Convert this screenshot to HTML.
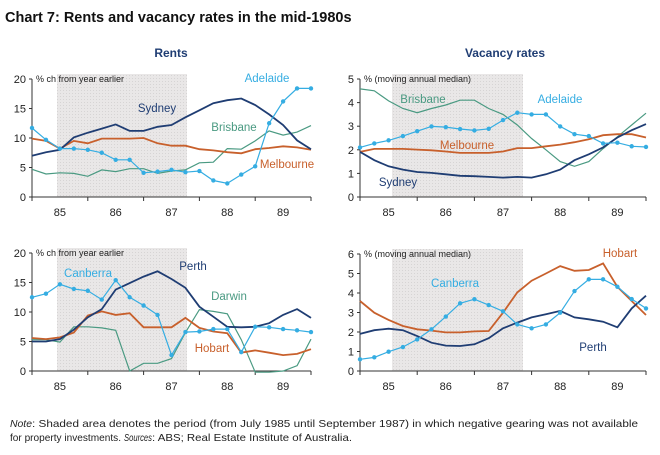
<!DOCTYPE html>
<html><head><meta charset="utf-8"><style>
body{margin:0;background:#fff;}
svg{display:block;font-family:"Liberation Sans",sans-serif;}
</style></head><body>
<svg id="chart" width="660" height="455" viewBox="0 0 660 455">
<text x="5" y="22" font-size="14.5" font-weight="bold" fill="#111">Chart 7: Rents and vacancy rates in the mid-1980s</text>
<text x="171" y="57" font-size="12" font-weight="bold" fill="#1f3d73" text-anchor="middle">Rents</text>
<text x="505" y="57" font-size="12" font-weight="bold" fill="#1f3d73" text-anchor="middle">Vacancy rates</text>
<g font-size="10.5" fill="#222">
<text x="10" y="427" font-style="italic" textLength="22" lengthAdjust="spacingAndGlyphs">Note</text>
<text x="32" y="427" textLength="606" lengthAdjust="spacingAndGlyphs">: Shaded area denotes the period (from July 1985 until September 1987) in which negative gearing was not available</text>
<text x="10" y="441" textLength="111" lengthAdjust="spacingAndGlyphs">for property investments.</text>
<text x="124" y="441" font-style="italic" textLength="28" lengthAdjust="spacingAndGlyphs">Sources</text>
<text x="152" y="441" textLength="200" lengthAdjust="spacingAndGlyphs">: ABS; Real Estate Institute of Australia.</text>
</g>
</svg>
<script>
const years = ['85','86','87','88','89'];
const rentsTicks = [0,5,10,15,20];
const vac1Ticks = [0,1,2,3,4,5];
const vac2Ticks = [0,1,2,3,4,5,6];
// quarterly values, 21 points
const sydneyRent = [7.0,7.6,8.0,10.1,10.9,11.6,12.3,11.2,11.2,11.9,12.2,13.5,14.7,15.9,16.4,16.7,15.6,14.0,12.2,9.6,8.1];
const melbourneRent = [9.9,9.5,8.2,9.5,9.1,9.9,9.9,9.9,10.0,9.1,8.7,8.7,8.1,7.9,7.6,7.4,8.1,8.3,8.6,8.4,8.0];
const brisbaneRent = [4.7,3.9,4.1,4.0,3.5,4.6,4.3,4.8,4.8,4.0,4.4,4.6,5.8,5.9,8.2,8.1,9.5,11.2,10.5,11.0,12.1];
const adelaideRent = [11.7,9.7,8.2,8.2,8.0,7.5,6.3,6.3,4.1,4.3,4.6,4.2,4.4,2.8,2.3,3.8,5.2,12.5,16.2,18.4,18.4];
const brisbaneVac = [4.58,4.5,4.07,3.75,3.57,3.75,3.9,4.1,4.1,3.75,3.5,3.05,2.48,2.0,1.5,1.3,1.5,2.05,2.55,3.05,3.55];
const adelaideVac = [2.1,2.27,2.4,2.58,2.79,2.99,2.96,2.88,2.82,2.89,3.26,3.57,3.5,3.5,2.99,2.66,2.58,2.27,2.3,2.15,2.12];
const melbourneVac = [1.91,2.04,2.04,2.04,2.01,1.98,1.93,1.87,1.87,1.87,1.93,2.07,2.07,2.15,2.22,2.32,2.45,2.62,2.66,2.66,2.52];
const sydneyVac = [1.91,1.56,1.3,1.16,1.06,1.02,0.96,0.9,0.88,0.85,0.82,0.85,0.82,0.96,1.16,1.56,1.81,2.1,2.52,2.83,3.09];
const perthRent = [5.0,5.0,5.4,7.0,9.1,10.5,13.8,14.9,16.0,16.9,15.6,14.1,10.9,9.2,7.5,7.4,7.5,8.1,9.5,10.5,9.0];
const canberraRent = [12.5,13.1,14.7,13.9,13.6,12.1,15.4,12.5,11.1,9.5,2.7,6.6,6.7,7.1,7.1,3.2,7.5,7.4,7.1,6.9,6.6];
const hobartRent = [5.6,5.4,5.7,6.5,9.4,10.1,9.5,9.8,7.4,7.4,7.4,9.0,7.3,6.7,6.4,3.1,3.5,3.1,2.7,2.9,3.7];
const darwinRent = [5.3,5.3,4.9,7.5,7.5,7.3,6.9,0,1.3,1.3,2.1,6.5,10.4,10.1,9.7,5.3,-0.2,-0.2,0,0.9,5.4];
const hobartVac = [3.59,2.99,2.62,2.31,2.14,2.07,1.98,1.98,2.03,2.05,2.99,4.03,4.63,5.0,5.38,5.14,5.18,5.52,4.32,3.59,2.87];
const canberraVac = [0.6,0.7,0.99,1.23,1.62,2.14,2.79,3.47,3.68,3.38,3.06,2.39,2.19,2.39,2.99,4.1,4.7,4.7,4.32,3.69,3.21];
const perthVac = [1.9,2.09,2.17,2.09,1.79,1.45,1.3,1.28,1.37,1.68,2.19,2.48,2.75,2.91,3.08,2.75,2.65,2.53,2.24,3.21,3.86];

const NAVY='#1f3d73', ORANGE='#c8602c', GREEN='#4a9a82', BLUE='#35ade2';
const svg=document.getElementById('chart');
const NS='http://www.w3.org/2000/svg';
function mk(tag,attrs,parent){const e=document.createElementNS(NS,tag);for(const k in attrs)e.setAttribute(k,attrs[k]);(parent||svg).appendChild(e);return e;}

const defs=mk('defs',{});
const pat=mk('pattern',{id:'dots',width:'3',height:'3',patternUnits:'userSpaceOnUse'},defs);
mk('rect',{width:'3',height:'3',fill:'#e9e7e7'},pat);
mk('rect',{x:'0',y:'0',width:'1',height:'1',fill:'#d6d4d4'},pat);

function panel(name,x0,x1,yTop,yBot,ymax,ticks,unitLabel,shadeX0,shadeX1,series,labels){
  const g=mk('g',{});
  
  
  const xs=i=>x0+(x1-x0)*i/20;
  const ys=v=>yBot-(yBot-yTop)*v/ymax;
  const sh=mk('rect',{x:shadeX0,y:yTop-5,width:shadeX1-shadeX0,height:yBot-yTop+5,fill:'url(#dots)'},g);
  
  
  const ax=mk('g',{stroke:'#333','stroke-width':'1'},g);
  
  
  mk('line',{x1:x0,y1:yTop,x2:x0,y2:yBot},ax);
  mk('line',{x1:x0,y1:yBot,x2:x1,y2:yBot},ax);
  ticks.forEach(t=>{
    mk('line',{x1:x0-3,y1:ys(t),x2:x0,y2:ys(t)},ax);
    const tl=mk('text',{x:x0-6,y:ys(t)+4,'font-size':'11','text-anchor':'end',fill:'#222',stroke:'none'},g);
    tl.textContent=t;
    
    
  });
  for(let k=0;k<=5;k++){mk('line',{x1:x0+(x1-x0)*k/5,y1:yBot,x2:x0+(x1-x0)*k/5,y2:yBot+4},ax);}
  years.forEach((y,k)=>{
    const tl=mk('text',{x:x0+(x1-x0)*(k+0.5)/5,y:yBot+19,'font-size':'11','text-anchor':'middle',fill:'#222'},g);
    tl.textContent=y;
    
    
  });
  const ul=mk('text',{x:x0+4,y:yTop+3,'font-size':'9',fill:'#222'},g);
  ul.textContent=unitLabel;
  
  
  series.forEach(s=>{
    const pts=s.data.map((v,i)=>xs(i).toFixed(1)+','+ys(v).toFixed(1)).join(' ');
    const pl=mk('polyline',{points:pts,fill:'none',stroke:s.color,'stroke-width':s.w||1.8},g);
    
    
    if(s.dots){s.data.forEach((v,i)=>{
      const c=mk('circle',{cx:xs(i),cy:ys(v),r:2.2,fill:s.color},g);
      
      
    });}
  });
  labels.forEach(l=>{
    const t=mk('text',{x:l[1],y:l[2],'font-size':'11.5',fill:l[3],'text-anchor':'middle'},g);
    t.textContent=l[0];
    
    
  });
}
panel('rents-top',32,311,79,197,20,rentsTicks,'% ch from year earlier',57,187,
 [{name:'brisbane',data:brisbaneRent,color:GREEN,w:1.2},{name:'melbourne',data:melbourneRent,color:ORANGE},{name:'sydney',data:sydneyRent,color:NAVY},{name:'adelaide',data:adelaideRent,color:BLUE,w:1.2,dots:true}],
 [['Sydney',157,112,NAVY],['Brisbane',234,131,GREEN],['Adelaide',267,82,BLUE],['Melbourne',287,168,ORANGE]]);
panel('vacancy-top',360,646,79,197,5,vac1Ticks,'% (moving annual median)',392,523,
 [{name:'brisbane',data:brisbaneVac,color:GREEN,w:1.2},{name:'melbourne',data:melbourneVac,color:ORANGE},{name:'sydney',data:sydneyVac,color:NAVY},{name:'adelaide',data:adelaideVac,color:BLUE,w:1.2,dots:true}],
 [['Brisbane',423,103,GREEN],['Adelaide',560,103,BLUE],['Melbourne',467,149,ORANGE],['Sydney',398,186,NAVY]]);
panel('rents-bottom',32,311,253,371,20,rentsTicks,'% ch from year earlier',57,187,
 [{name:'darwin',data:darwinRent,color:GREEN,w:1.2},{name:'hobart',data:hobartRent,color:ORANGE},{name:'perth',data:perthRent,color:NAVY},{name:'canberra',data:canberraRent,color:BLUE,w:1.2,dots:true}],
 [['Canberra',88,277,BLUE],['Perth',193,270,NAVY],['Darwin',229,300,GREEN],['Hobart',212,352,ORANGE]]);
panel('vacancy-bottom',360,646,254,371,6,vac2Ticks,'% (moving annual median)',392,523,
 [{name:'hobart',data:hobartVac,color:ORANGE},{name:'perth',data:perthVac,color:NAVY},{name:'canberra',data:canberraVac,color:BLUE,w:1.2,dots:true}],
 [['Hobart',620,257,ORANGE],['Canberra',455,287,BLUE],['Perth',593,351,NAVY]]);
</script>
</body></html>
